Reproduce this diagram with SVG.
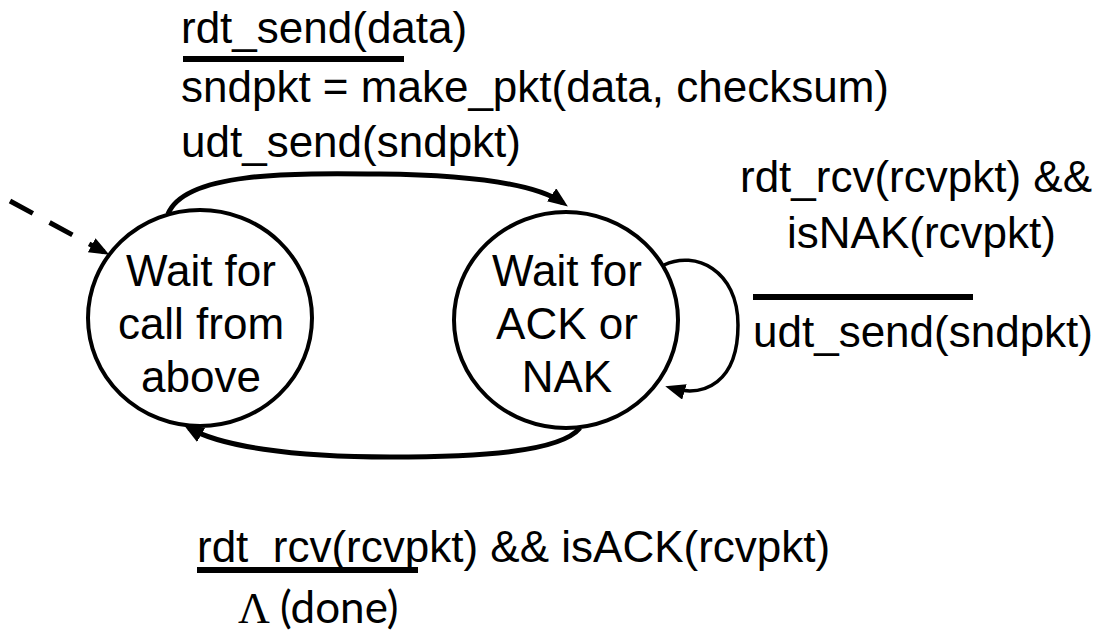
<svg xmlns="http://www.w3.org/2000/svg" width="1114" height="634" viewBox="0 0 1114 634">
<style>
.t{font-family:"Liberation Sans",Arial,sans-serif;font-size:44px;fill:#000}
.c{text-anchor:middle}
.node{fill:#fff;stroke:#000;stroke-width:4}
.bar{stroke:#000;stroke-width:6;fill:none}
.edge{fill:none;stroke:#000;stroke-width:5}
.thin{stroke-width:3.5}
.dash{stroke-dasharray:26 19}
</style>
<defs>
<marker id="ah" markerUnits="userSpaceOnUse" markerWidth="24" markerHeight="18" refX="14" refY="8" orient="auto">
<path d="M0,0 L20,8 L0,16 z" fill="#000"/>
</marker>
</defs>
<rect width="1114" height="634" fill="#fff"/>
<g id="connectors">
<path class="edge dash" d="M10,201 L104,252" marker-end="url(#ah)"/>
<path class="edge" d="M168,214 C185,172 290,173 380,174 C470,175 535,183 563,203" marker-end="url(#ah)"/>
<path class="edge" d="M580,428 C560,452 480,457 390,457 C290,457 220,446 189,428" marker-end="url(#ah)"/>
<path class="edge thin" d="M664,265 C695,250 738,270 738,325 C738,382 705,398 671,388" marker-end="url(#ah)"/>
</g>
<g id="wait-call">
<ellipse class="node" cx="200" cy="318" rx="112" ry="108"/>
<text class="t c" x="201" y="286">Wait for</text>
<text class="t c" x="201" y="339">call from</text>
<text class="t c" x="201" y="392">above</text>
</g>
<g id="wait-ack">
<ellipse class="node" cx="566" cy="320" rx="112" ry="108"/>
<text class="t c" x="567" y="286">Wait for</text>
<text class="t c" x="567" y="339">ACK or</text>
<text class="t c" x="567" y="392">NAK</text>
</g>
<g id="label-send">
<text class="t" x="181" y="43">rdt_send(data)</text>
<line class="bar" x1="183" y1="59" x2="404" y2="59"/>
<text class="t" x="181" y="102">sndpkt = make_pkt(data, checksum)</text>
<text class="t" x="181" y="157">udt_send(sndpkt)</text>
</g>
<g id="label-nak">
<text class="t" x="740" y="192">rdt_rcv(rcvpkt) &amp;&amp;</text>
<text class="t" x="787" y="248">isNAK(rcvpkt)</text>
<line class="bar" x1="753" y1="297" x2="973" y2="297"/>
<text class="t" x="753" y="347">udt_send(sndpkt)</text>
</g>
<g id="label-ack">
<text class="t" x="197" y="562">rdt_rcv(rcvpkt) &amp;&amp; isACK(rcvpkt)</text>
<line class="bar" x1="197" y1="570" x2="418" y2="570"/>
<text x="238" y="623" style="font-family:'Liberation Serif','Times New Roman',serif;font-size:44px">Λ</text>
<text x="280" y="623" style="font-family:Lato,'Open Sans',sans-serif;font-size:44px">(done)</text>
</g>
</svg>
